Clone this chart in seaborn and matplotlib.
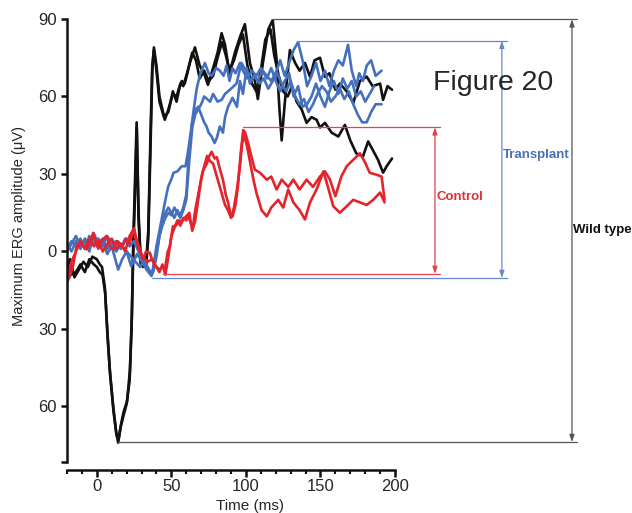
import matplotlib

matplotlib.use("Agg")
import matplotlib.pyplot as plt
import pandas as pd
import seaborn as sns

# ERG traces: (time ms, amplitude uV)
wt_a = [(-20, -6), (-18, -3), (-15, -10), (-12, -7), (-9, -4), (-6, -6), (-3, -2), (0, -3), (2, -5), (3.5, -6),
        (5.4, -14), (7, -30), (8.7, -46), (11, -60), (13, -70), (14.3, -74), (16, -68), (17.7, -64), (20, -59),
        (22, -50), (23.3, -30), (24.4, 2), (25.5, 25), (26.7, 50), (28, 15), (29.5, -5), (31, -4), (33, -6),
        (34.5, 5), (36, 40), (37.2, 70), (38.3, 79), (40, 72), (42, 60), (45.6, 51), (48, 55), (51, 61),
        (53.5, 60), (55, 63), (57, 66), (59, 65), (62.4, 73), (65.8, 79), (69, 72), (72.5, 68), (74.5, 64.5),
        (78, 71), (81, 77), (83.7, 84.5), (86, 80), (89, 69), (92.6, 77), (96, 83), (99.3, 88), (102.7, 73),
        (106, 66), (108, 59), (111.4, 73), (115, 86), (118, 89.6), (120.6, 74), (122.5, 55), (124, 43),
        (126, 57), (129.5, 78), (133, 73), (136, 70), (139.6, 73), (143, 67.6), (146, 74), (149.7, 75),
        (153, 67.6), (156, 69), (160, 62.6), (163, 65), (167.6, 62), (172, 57.5), (176.5, 66), (181, 67.7),
        (185, 64), (190, 65), (192, 58.7), (195, 64), (198, 62.6)]
wt_b = [(-20, -4), (-17, -9), (-14, -8), (-11, -5), (-8, -8), (-5, -3), (-2, -5), (0, -6), (2, -8), (3.8, -9),
        (5.6, -16), (7.2, -33), (9, -48), (11.2, -62), (13.2, -71), (14.5, -73), (16.2, -67), (18, -62),
        (20.3, -58), (22.2, -46), (23.5, -25), (24.6, 4), (25.6, 22), (26.8, 48), (28, 12), (29.5, -4),
        (31, -6), (33, -5), (34.5, 8), (36, 45), (37.2, 72), (38.3, 78), (40, 70), (42, 58), (45, 52), (48, 54),
        (51, 62), (53.5, 58), (56, 65), (58, 64), (61, 70), (64, 77), (66.5, 74), (69, 67), (72, 70), (75, 66),
        (78, 68), (81, 75), (84, 81), (86.5, 76), (89, 70), (92, 74), (95, 80), (98, 84), (101, 72), (104, 65),
        (107, 62), (110, 70), (113, 82), (116.5, 86), (119, 76), (122, 68), (125, 62), (128, 60), (131, 64),
        (134, 58), (137.4, 55), (140.7, 49.8), (144, 52), (147.4, 51), (149.7, 48), (153, 49.8), (157.5, 46),
        (162, 44.5), (166.4, 49), (170, 43), (174, 38), (178.5, 36.8), (182, 42.6), (185, 39.4),
        (188.6, 35.5), (192, 30.5), (194.4, 33), (198, 36)]

tp_u = [(-20, 1), (-17, 4), (-14, 2), (-11, 5), (-8, 1), (-5, 6), (-2, 3), (1, 5), (4, 2), (7, 6), (10, 3),
        (13, 4), (16, 1), (19, 5), (22, 2), (25, 4), (28, 0), (31, -4), (34, -6), (37, -9), (40, 2), (42, 8),
        (44, 14), (46, 20), (47.8, 25), (50, 28), (51.5, 30.5), (54, 31), (57, 33), (59.5, 33), (61, 38),
        (63, 46), (65, 55), (67, 63), (69, 68), (71, 71), (72.5, 73), (75, 69), (77, 68), (80, 71),
        (82.5, 70), (85, 68), (87, 72), (89, 66), (91, 71), (93, 69), (96, 73), (98, 70), (101, 67),
        (104, 70), (107, 68), (110, 71), (114, 68), (117, 66), (120.6, 70), (123, 74), (126, 68), (129, 73),
        (132, 78), (135, 81), (138, 74), (141, 64), (144, 68), (147, 73), (150, 66), (153, 70), (156, 64),
        (159, 70), (162, 74), (165, 72), (168.5, 80), (171, 70), (174, 64), (176, 69), (178.5, 66),
        (181, 72), (184, 74), (187, 68), (191, 70)]
tp_m = [(-20, 3), (-17, 0), (-14, 4), (-11, 1), (-8, 5), (-5, 2), (-2, 6), (1, 1), (4, 4), (7, -1), (10, 2),
        (14.3, -7), (17, -3), (20, 0), (23, -2), (26, -4), (29, -6), (32, -3), (35, -8), (37.8, -8),
        (40, -2), (42, 6), (44, 10), (46, 13), (48, 15), (50, 14), (52, 17), (54, 15), (56, 13), (58, 16),
        (60, 20), (62, 35), (64, 48), (66, 53), (68, 55), (70, 57), (72, 60), (74, 59), (76, 58), (78, 61),
        (81, 58), (83.7, 58.7), (86, 61), (88, 62), (90, 63), (93.7, 65), (97, 73), (100, 70), (103, 66),
        (106, 68), (109, 65), (112, 67), (115, 63), (118, 66), (121, 69), (124, 65), (127, 62), (130, 66),
        (133, 60), (136, 57), (139, 59), (142, 54), (145, 57), (148, 61), (151, 64), (154, 62), (157, 58),
        (160, 60), (163, 63), (166, 59), (169, 62), (172, 57), (175, 53), (178, 50), (181, 50), (184, 54),
        (187, 57), (191, 57)]
tp_l = [(-20, 0), (-17, 3), (-14, 6), (-11, 2), (-8, 4), (-5, 0), (-2, 7), (1, 3), (4, 5), (7, 1), (10, 4),
        (13, 0), (16, 3), (20, 0), (23, -5.7), (27, -1), (30, -3.7), (33.3, -7), (36.7, -9.5), (39, -4),
        (42, 6), (44, 12), (46, 15), (48, 17), (50, 15), (52, 13), (54, 16), (56, 14), (58, 17), (60, 22),
        (62, 40), (64, 50), (66, 55), (68, 56), (70, 53), (72, 50), (73.6, 48.4), (75, 46), (77, 44.5),
        (79, 42), (80.5, 44), (82.5, 48.4), (84.6, 46), (86, 52), (88, 56), (91, 59.5), (94, 56), (96, 66),
        (98, 61), (100.5, 71), (102.7, 65), (105, 68), (108, 66), (111, 70), (114, 67), (117, 71), (120, 66),
        (123, 62), (126, 66), (129, 69), (132, 60), (135, 64), (138, 56), (141, 57), (144, 60), (147, 65),
        (150, 60), (153, 56), (156, 62), (159, 66), (162, 61), (165, 67), (168, 63), (171, 66), (174, 60),
        (177, 62), (180, 58), (183, 61), (186, 64)]

ct_a = [(-20, -12), (-18, -9.5), (-16, -5.7), (-13.6, 2), (-10.7, 3.7), (-7, 0.8), (-4, 4), (-2.5, 7.2),
        (0.8, 1.5), (3, 4), (6.5, 6), (9, 2), (11, 0.8), (14, 4), (17, 2), (20, 5), (22, 3), (24.4, 8.5),
        (26, 5), (28, 2.4), (31, -3), (33, 0), (35.6, -0.5), (37, -3), (39, -5.7), (42.3, -7), (44, -6),
        (45.6, -7), (47.6, 0), (49, 2), (51, 9.7), (53, 10), (55, 12), (57, 11.6), (59, 13), (61, 14.3),
        (63, 11), (64.5, 9.7), (66, 16), (69, 25), (71, 31), (73.8, 34), (75.5, 37), (77, 38.6), (79, 36),
        (80.5, 36.5), (82.5, 32), (84.6, 27.8), (86.5, 22), (88, 19), (89.5, 15), (91, 13.5), (93, 18),
        (94.6, 25), (96.5, 38), (98.2, 47), (99.5, 46), (101.5, 42), (104, 36), (106, 31.7), (109.4, 30.5),
        (112, 29), (114, 27.8), (117, 29), (120.6, 24), (124, 27.8), (128.4, 25), (131.8, 27.8), (136, 24),
        (140.7, 27.8), (145, 25), (149.7, 29), (153, 31), (156.4, 27.8), (160, 21.4), (164, 29),
        (167.6, 33), (172, 35.5), (176.5, 38), (180, 34.4), (183, 30.5), (187.7, 29.7), (191, 29), (193, 20)]
ct_b = [(-20, -10), (-17, -4), (-14, 0), (-11, 4), (-8, 1), (-5, 5), (-2, 2), (1, 4), (4, 0), (7, 3), (10, 5),
        (13, 1), (16, 3), (19, 0), (22, 6), (25, 9), (28, 1), (31, -2), (34, -4), (37, -3), (40, -6),
        (42, -8), (44, -5), (46, -9), (48, -2), (50, 6), (52, 9), (54, 12), (56, 10), (58, 13), (60, 12),
        (62, 15), (64, 8), (66, 12), (68, 20), (70, 28), (72, 33), (74, 37), (76, 35), (78, 34), (80, 30),
        (82, 26), (84, 22), (86, 18), (88, 16), (90, 13), (92, 17), (94, 24), (96, 33), (97.5, 42), (99, 45),
        (101, 40), (103, 34), (105, 28), (107, 22.8), (110.5, 16), (114, 13.6), (117, 17), (121.7, 20),
        (125, 17), (128.4, 24), (131.8, 19), (136, 16), (139.6, 12.4), (143, 19), (147.4, 24), (152, 31),
        (155, 25), (158.6, 17.5), (163, 15), (167.6, 17.5), (172, 20), (176.5, 19), (181, 18), (185.4, 20),
        (190, 22.8), (193, 19)]

TRACES = {"wt_a": ("Wild type", wt_a), "wt_b": ("Wild type", wt_b),
          "tp_u": ("Transplant", tp_u), "tp_m": ("Transplant", tp_m), "tp_l": ("Transplant", tp_l),
          "ct_a": ("Control", ct_a), "ct_b": ("Control", ct_b)}

# amplitude ranges marked on the right:
# (label, min, max, x-start of min line, x-start of max line, arrow x, label y)
ranges = [("Control", -8.7, 48.1, 44.5, 98, 226.8, 21.2),
          ("Transplant", -10.3, 81.6, 36.7, 134, 271.7, 37.3),
          ("Wild type", -73.8, 89.9, 14, 117.4, 318.7, 8.4)]

COLORS = {"Wild type": "#111111", "Transplant": "#4470bd", "Control": "#e6222b"}
RANGE_COLORS = {"Wild type": "#555555", "Transplant": "#6688cc", "Control": "#e2434c"}
TEXT_COLORS = {"Wild type": "#111111", "Transplant": "#4a6fb8", "Control": "#e2303a"}

sns.set_theme(style="ticks")
plt.rcParams["font.family"] = ["Liberation Sans", "DejaVu Sans"]

rows = []
for key, (grp, pts) in TRACES.items():
    for t, v in pts:
        rows.append({"time": t, "amp": v, "group": grp, "trace": key})
df = pd.DataFrame(rows)

fig = plt.figure(figsize=(6.32, 5.13), dpi=100)
ax = fig.add_axes([67 / 632, 1 - 462 / 513, 328 / 632, 443 / 513])

sns.lineplot(data=df, x="time", y="amp", hue="group", units="trace", estimator=None,
             hue_order=["Wild type", "Transplant", "Control"], palette=COLORS,
             lw=1.9, legend=False, sort=False, ax=ax)

for name, lo, hi, x_lo, x_hi, x_arr, y_txt in ranges:
    c = RANGE_COLORS[name]
    ax.plot([x_lo, x_arr + 3.5], [lo, lo], color=c, lw=0.9, clip_on=False)
    ax.plot([x_hi, x_arr + 3.5], [hi, hi], color=c, lw=0.9, clip_on=False)
    ax.annotate("", xy=(x_arr, hi), xytext=(x_arr, lo), annotation_clip=False,
                arrowprops=dict(arrowstyle="<|-|>,head_length=0.35,head_width=0.12",
                                color=c, lw=0.9, shrinkA=0, shrinkB=0))
    ax.text(x_arr + 0.8, y_txt, name, color=TEXT_COLORS[name], fontsize=9.5, fontweight="bold",
            ha="left", va="center", clip_on=False)

ax.set_xlim(-20, 200)
ax.set_ylim(-81.5, 90)
ax.set_xticks([0, 50, 100, 150, 200])
ax.set_xticks(range(-20, 201, 10), minor=True)
ax.set_yticks([-81.5, -60, -30, 0, 30, 60, 90])
ax.set_yticklabels(["", "60", "30", "0", "30", "60", "90"])
ax.grid(False)

for side in ["top", "right"]:
    ax.spines[side].set_visible(False)
ax.spines["bottom"].set_position(("outward", 6))
for side in ["left", "bottom"]:
    ax.spines[side].set_linewidth(1.8)
    ax.spines[side].set_color("#111111")
ax.tick_params(axis="y", which="major", length=4, width=1.8, pad=3.5, labelsize=12, color="#111111")
ax.tick_params(axis="x", which="major", length=5, width=1.8, pad=1, labelsize=12, color="#111111")
ax.tick_params(axis="x", which="minor", length=3, width=1.5, color="#111111")

ax.set_xlabel("Time (ms)", fontsize=11)
ax.set_ylabel("Maximum ERG amplitude (\u03bcV)", fontsize=10.5)
ax.xaxis.set_label_coords((250 - 67) / 328, -0.083)
ax.yaxis.set_label_coords(-0.125, (462 - 226) / 443)

fig.text(433 / 632, 1 - 83 / 513, "Figure 20", fontsize=20.5, ha="left", va="center")

fig.savefig("out.png", dpi=100)
